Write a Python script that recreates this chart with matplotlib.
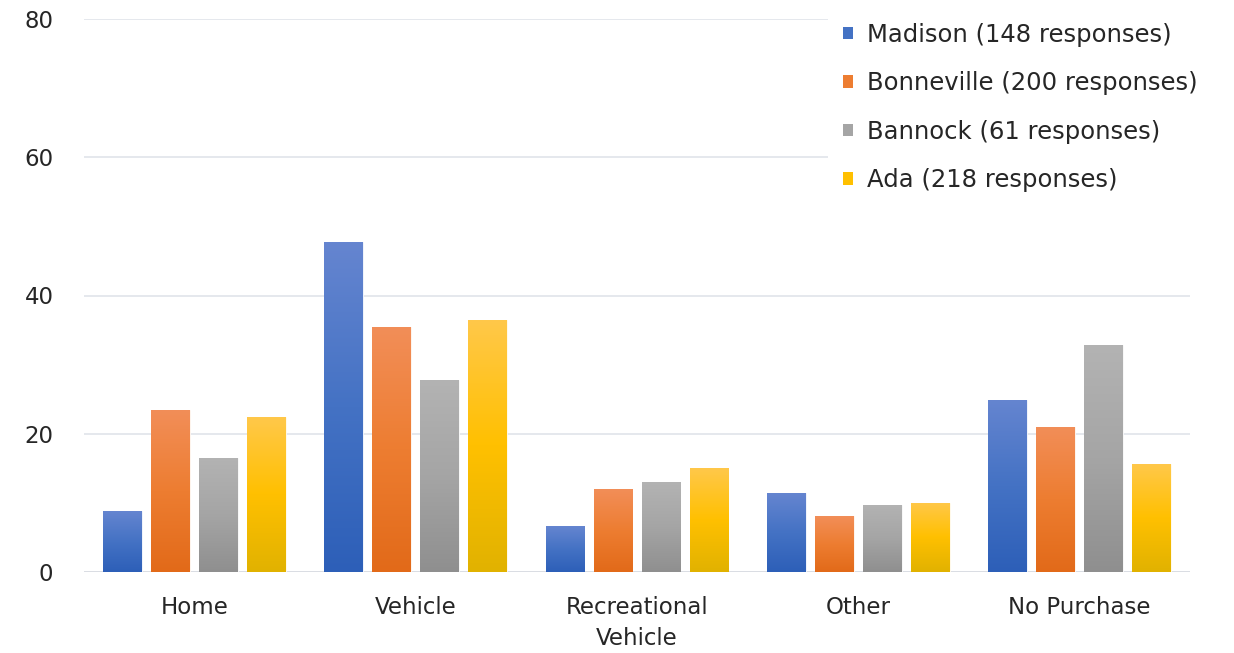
import numpy as np
import matplotlib
matplotlib.use("Agg")
import matplotlib.pyplot as plt
from matplotlib.colors import LinearSegmentedColormap
from matplotlib.patches import Rectangle

categories = ["Home", "Vehicle", "Recreational\nVehicle", "Other", "No Purchase"]
series_names = ["Madison (148 responses)", "Bonneville (200 responses)",
                "Bannock (61 responses)", "Ada (218 responses)"]
madison = [8.8, 47.7, 6.6, 11.4, 24.9]
bonneville = [23.4, 35.4, 12.0, 8.1, 21.0]
bannock = [16.5, 27.8, 13.0, 9.7, 32.8]
ada = [22.4, 36.5, 15.0, 10.0, 15.6]
yticks = [0, 20, 40, 60, 80]

series = [madison, bonneville, bannock, ada]
base_colors = ["#4472C4", "#ED7D31", "#A5A5A5", "#FFC000"]
grad = [("#6585D0", "#4472C4", "#2D5FB8"),
        ("#F28E58", "#ED7D31", "#E26A19"),
        ("#B3B3B3", "#A5A5A5", "#8F8F8F"),
        ("#FFC84A", "#FFC000", "#E1B200")]

plt.rcParams['font.family'] = ['DejaVu Sans']
FS = 16.5
LFS = 17.5
fig = plt.figure(figsize=(12.34, 6.53), dpi=100)
ax = fig.add_axes([84/1234, 1-572/653, (1190-84)/1234, (572-19)/653])

x = np.arange(len(categories))
width = 0.176
step = 0.217
offsets = (np.arange(4) - 1.5) * step

for i, vals in enumerate(series):
    bars = ax.bar(x + offsets[i], vals, width, color=base_colors[i],
                  edgecolor="white", linewidth=0.6, zorder=3, label=series_names[i])
    cmap = LinearSegmentedColormap.from_list("g%d" % i, [grad[i][2], grad[i][1], grad[i][0]])
    g = np.linspace(0, 1, 256).reshape(-1, 1)
    for b in bars:
        bx, by = b.get_x(), b.get_y()
        bw, bh = b.get_width(), b.get_height()
        im = ax.imshow(g, extent=[bx, bx + bw, by, by + bh], origin="lower",
                       aspect="auto", cmap=cmap, zorder=3.5, interpolation="bilinear")
        im.set_clip_path(b)

ax.set_xlim(-0.5, len(categories) - 0.5)
ax.set_ylim(0, 80)
ax.set_yticks(yticks)
ax.set_xticks(x)
ax.set_xticklabels(categories, fontsize=FS, color="#262626", linespacing=1.45)
ax.tick_params(axis='y', labelsize=FS, colors="#262626", length=0, pad=22)
ax.tick_params(axis='x', length=0, pad=17.5)
ax.grid(axis='y', color="#E3E6EC", linewidth=1.3, zorder=0)
for s in ax.spines.values():
    s.set_visible(False)
ax.axhline(0, color="#D9DCE2", linewidth=1.3, zorder=2)

handles = [Rectangle((0, 0), 1, 1, facecolor=c, edgecolor="none") for c in base_colors]
leg = ax.legend(handles, series_names, loc="upper left", bbox_to_anchor=(828/1234, 1 - 8/653),
                bbox_transform=fig.transFigure, fontsize=LFS, frameon=True, framealpha=1,
                edgecolor="none", facecolor="white", fancybox=False,
                handlelength=0.42, handleheight=0.42, handletextpad=0.6, labelspacing=1.01,
                borderpad=0.6, borderaxespad=0)
for t in leg.get_texts():
    t.set_color("#262626")
leg.set_zorder(10)

fig.savefig("out.png", dpi=100, facecolor="white")
